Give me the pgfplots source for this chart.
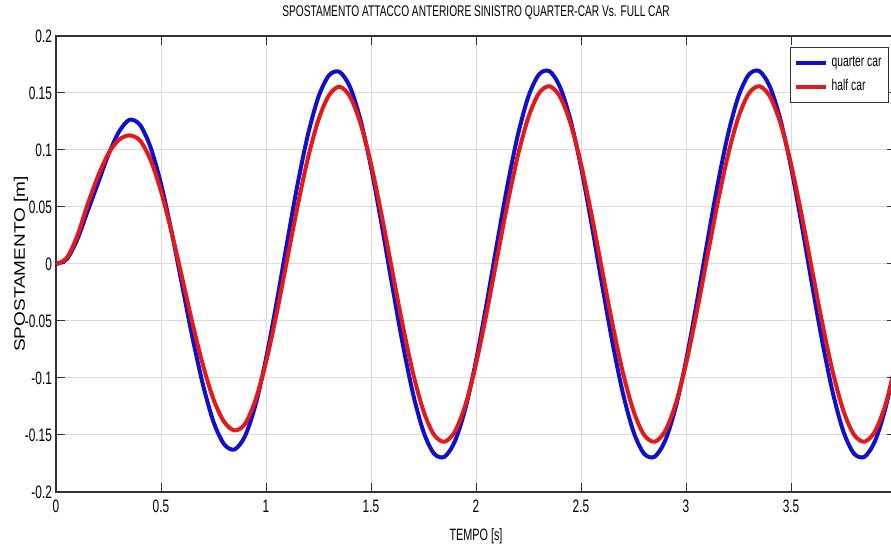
\documentclass[border=0pt]{standalone}
\usepackage{graphicx}
\usepackage{pgfplots}
\pgfplotsset{compat=1.18}
\usepackage{fontspec}
\setmainfont{Liberation Sans}
\newfontfamily\cond{Liberation Sans}[FakeStretch=0.66]
\definecolor{qblue}{RGB}{15,15,205}
\definecolor{hred}{RGB}{228,25,25}
\begin{document}
\begin{tikzpicture}
\begin{axis}[
  scale only axis, width=420pt, height=228pt,
  xmin=0, xmax=4, ymin=-0.2, ymax=0.2,
  xtick={0,0.5,1,1.5,2,2.5,3,3.5,4},
  xticklabels={0,0.5,1,1.5,2,2.5,3,3.5,4},
  ytick={-0.2,-0.15,-0.1,-0.05,0,0.05,0.1,0.15,0.2},
  yticklabels={-0.2,-0.15,-0.1,-0.05,0,0.05,0.1,0.15,0.2},
  /pgf/number format/assume math mode=true,
  tick align=inside, major tick length=4.5pt,
  tick style={black!80, line width=0.5pt},
  grid=major, major grid style={black!14, line width=0.5pt},
  axis line style={black!80, line width=0.6pt},
  ticklabel style={font=\cond\fontsize{9}{10}\selectfont},
  yticklabel style={xshift=1.5pt},
  xticklabel style={yshift=-0.5pt},
  title={SPOSTAMENTO ATTACCO ANTERIORE SINISTRO QUARTER-CAR Vs. FULL CAR},
  every axis title/.style={at={(axis description cs:0.5,1)}, anchor=south, yshift=8pt, inner sep=0pt, font=\cond\fontsize{7.7}{9}\selectfont},
  xlabel={TEMPO [s]},
  every axis x label/.style={at={(axis description cs:0.5,0)}, anchor=north, yshift=-18pt, inner sep=0pt, font=\cond\fontsize{8.2}{10}\selectfont},
  ylabel={\scalebox{1}[0.8]{SPOSTAMENTO [m]}},
  every axis y label/.style={at={([xshift=-17.5pt]axis description cs:0,0.5)}, rotate=90, anchor=center, inner sep=0pt, font=\fontsize{9.5}{11}\selectfont},
  legend style={at={(axis description cs:1,1)}, anchor=north east, xshift=-3.5pt, yshift=-5.5pt, draw=black!80, line width=0.5pt, font=\cond\fontsize{7.8}{9}\selectfont, inner xsep=1.5pt, inner ysep=2.5pt, row sep=1pt, cells={anchor=west}},
  legend image code/.code={\draw[#1] (0pt,0pt) -- (15pt,0pt);},
]
\addplot[qblue, line width=2pt, smooth] coordinates {
(0,0) (0.05,0.004) (0.1,0.021) (0.15,0.046) (0.2,0.071) (0.25,0.096) (0.3,0.116) (0.35,0.1265) (0.4,0.122) (0.45,0.1025)
(0.5,0.0703) (0.55,0.0286) (0.6,-0.018) (0.65,-0.0646) (0.7,-0.106) (0.75,-0.1385) (0.8,-0.158) (0.85,-0.1627) (0.9,-0.151) (0.95,-0.1236)
(1.0,-0.0832) (1.05,-0.0344) (1.1,0.0184) (1.15,0.0695) (1.2,0.1137) (1.25,0.1467) (1.3,0.1655) (1.35,0.1685) (1.4,0.1553) (1.45,0.1263)
(1.5,0.085) (1.55,0.0353) (1.6,-0.0178) (1.65,-0.0691) (1.7,-0.1137) (1.75,-0.1472) (1.8,-0.1663) (1.85,-0.1691) (1.9,-0.1553) (1.95,-0.1263)
(2.0,-0.085) (2.05,-0.0353) (2.1,0.0178) (2.15,0.0691) (2.2,0.1137) (2.25,0.1472) (2.3,0.1663) (2.35,0.1691) (2.4,0.1553) (2.45,0.1263)
(2.5,0.085) (2.55,0.0353) (2.6,-0.0178) (2.65,-0.0691) (2.7,-0.1137) (2.75,-0.1472) (2.8,-0.1663) (2.85,-0.1691) (2.9,-0.1553) (2.95,-0.1263)
(3.0,-0.085) (3.05,-0.0353) (3.1,0.0178) (3.15,0.0691) (3.2,0.1137) (3.25,0.1472) (3.3,0.1663) (3.35,0.1691) (3.4,0.1553) (3.45,0.1263)
(3.5,0.085) (3.55,0.0353) (3.6,-0.0178) (3.65,-0.0691) (3.7,-0.1137) (3.75,-0.1472) (3.8,-0.1663) (3.85,-0.1691) (3.9,-0.1553) (3.95,-0.1263)
(4.0,-0.085)
};
\addlegendentry{quarter car}
\addplot[hred, line width=2pt, smooth] coordinates {
(0,0) (0.05,0.005) (0.1,0.024) (0.15,0.052) (0.2,0.077) (0.25,0.097) (0.3,0.109) (0.35,0.1128) (0.4,0.1083) (0.45,0.0914)
(0.5,0.0638) (0.55,0.0282) (0.6,-0.0115) (0.65,-0.052) (0.7,-0.0889) (0.75,-0.1187) (0.8,-0.1383) (0.85,-0.146) (0.9,-0.1403) (0.95,-0.1192)
(1.0,-0.0862) (1.05,-0.044) (1.1,0.0032) (1.15,0.0503) (1.2,0.093) (1.25,0.1266) (1.3,0.148) (1.35,0.1555) (1.4,0.1468) (1.45,0.1233)
(1.5,0.0877) (1.55,0.0435) (1.6,-0.0049) (1.65,-0.0528) (1.7,-0.0956) (1.75,-0.129) (1.8,-0.1498) (1.85,-0.1559) (1.9,-0.1468) (1.95,-0.1233)
(2.0,-0.0877) (2.05,-0.0435) (2.1,0.0049) (2.15,0.0528) (2.2,0.0956) (2.25,0.129) (2.3,0.1498) (2.35,0.1559) (2.4,0.1468) (2.45,0.1233)
(2.5,0.0877) (2.55,0.0435) (2.6,-0.0049) (2.65,-0.0528) (2.7,-0.0956) (2.75,-0.129) (2.8,-0.1498) (2.85,-0.1559) (2.9,-0.1468) (2.95,-0.1233)
(3.0,-0.0877) (3.05,-0.0435) (3.1,0.0049) (3.15,0.0528) (3.2,0.0956) (3.25,0.129) (3.3,0.1498) (3.35,0.1559) (3.4,0.1468) (3.45,0.1233)
(3.5,0.0877) (3.55,0.0435) (3.6,-0.0049) (3.65,-0.0528) (3.7,-0.0956) (3.75,-0.129) (3.8,-0.1498) (3.85,-0.1559) (3.9,-0.1468) (3.95,-0.1233)
(4.0,-0.0877)
};
\addlegendentry{half car}
\end{axis}
\pgfresetboundingbox
\path ([shift={(-28pt,-28pt)}]current axis.south west) rectangle ([shift={(-2.5pt,18pt)}]current axis.north east);
\end{tikzpicture}
\end{document}
